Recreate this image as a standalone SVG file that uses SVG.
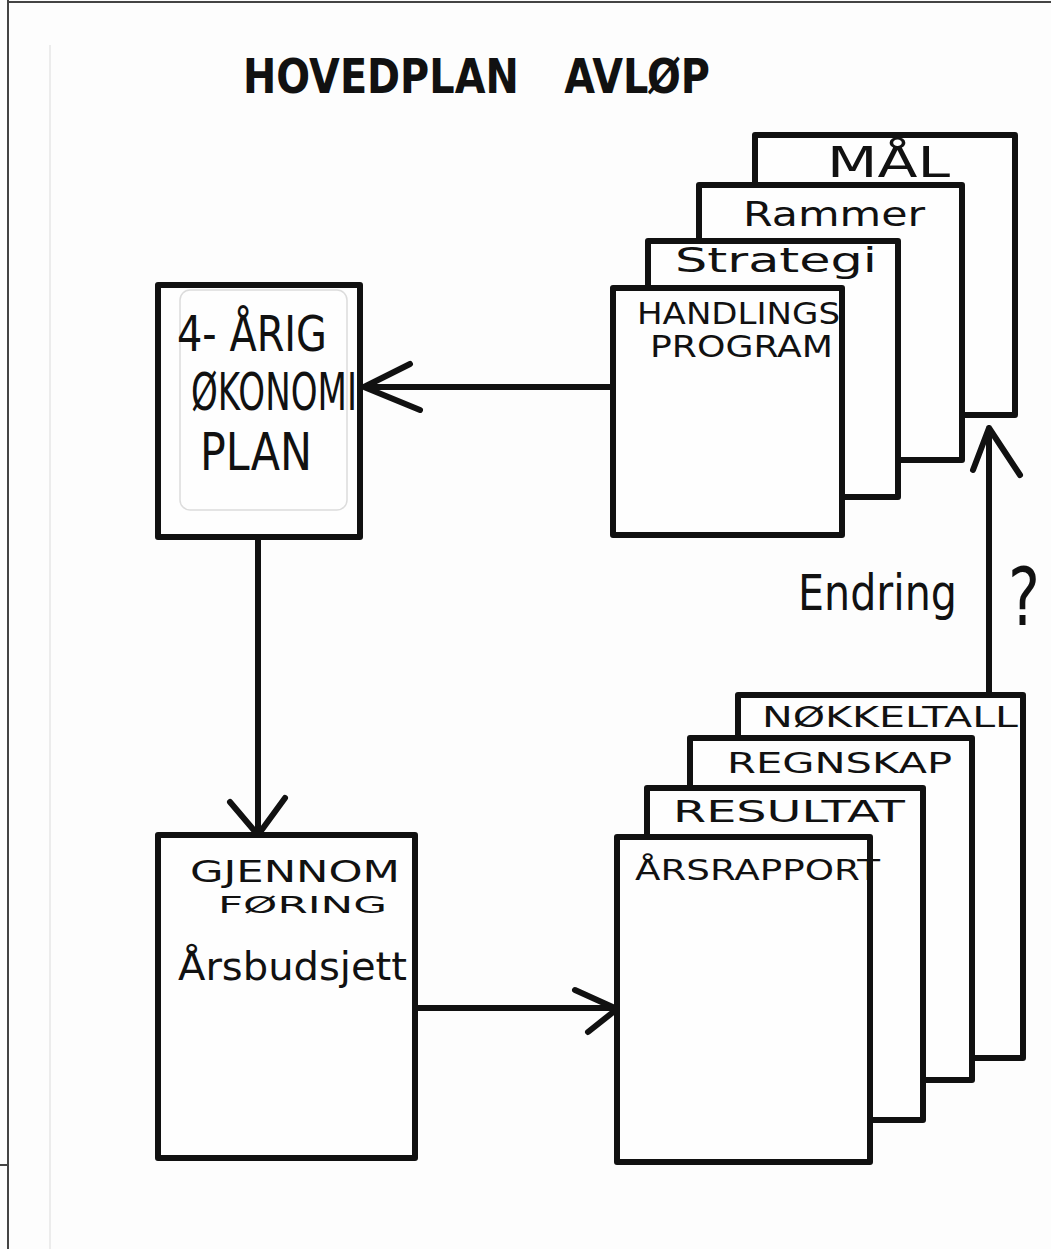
<svg xmlns="http://www.w3.org/2000/svg" width="1051" height="1249" viewBox="0 0 1051 1249">
<style>
.bg{fill:#fdfdfd}
.sheet{fill:#fefefe;stroke:#111;stroke-width:6;stroke-linejoin:round}
.conn{fill:none;stroke:#111;stroke-width:6;stroke-linecap:round;stroke-linejoin:round}
.t{font-family:"DejaVu Sans","Liberation Sans",sans-serif;fill:#111;font-weight:bold}
.h{font-family:"DejaVu Sans","Liberation Sans",sans-serif;fill:#111}
.edge{stroke:#444;stroke-width:2;fill:none}
</style>
<rect class="bg" x="0" y="0" width="1051" height="1249"/>
<g id="page-edges">
<line class="edge" x1="8" y1="0" x2="8" y2="1249"/>
<line class="edge" x1="8" y1="2" x2="1051" y2="2"/>
<line x1="50" y1="45" x2="50" y2="1249" stroke="#e6e6e6" stroke-width="1.5"/>
<line class="edge" x1="0" y1="1165" x2="8" y2="1165"/>
</g>
<g id="title">
<text class="t" x="243" y="93" font-size="48" word-spacing="38" textLength="467" lengthAdjust="spacingAndGlyphs">HOVEDPLAN AVLØP</text>
</g>
<g id="connectors">
<path class="conn" d="M613 387 L364 387 M410 364 L364 387 L420 410"/>
<path class="conn" d="M258 538 L258 833 M230 802 L258 835 L285 798"/>
<path class="conn" d="M415 1008 L615 1008 M575 990 L617 1009 L588 1032"/>
<path class="conn" d="M989 695 L989 428 M973 470 L989 428 L1020 475"/>
</g>
<g id="plan-okonomi">
<rect class="sheet" x="158" y="285" width="202" height="252"/>
<rect x="180" y="290" width="167" height="220" rx="10" fill="none" stroke="#dcdcdc" stroke-width="1.5"/>
<text class="h" x="177" y="351" font-size="50" textLength="150" lengthAdjust="spacingAndGlyphs">4- ÅRIG</text>
<text class="h" x="191" y="410" font-size="52" textLength="166" lengthAdjust="spacingAndGlyphs">ØKONOMI</text>
<text class="h" x="200" y="470" font-size="52" textLength="112" lengthAdjust="spacingAndGlyphs">PLAN</text>
</g>
<g id="stack-mal">
<rect class="sheet" x="755" y="135" width="260" height="280"/>
<text class="h" x="827" y="177" font-size="42" textLength="123" lengthAdjust="spacingAndGlyphs">MÅL</text>
</g>
<g id="stack-rammer">
<rect class="sheet" x="699" y="185" width="263" height="275"/>
<text class="h" x="743" y="226" font-size="33" textLength="182" lengthAdjust="spacingAndGlyphs">Rammer</text>
</g>
<g id="stack-strategi">
<rect class="sheet" x="648" y="241" width="250" height="256"/>
<text class="h" x="675" y="272" font-size="33" textLength="202" lengthAdjust="spacingAndGlyphs">Strategi</text>
</g>
<g id="stack-handlingsprogram">
<rect class="sheet" x="613" y="288" width="229" height="247"/>
<text class="h" x="637" y="324" font-size="31" textLength="203" lengthAdjust="spacingAndGlyphs">HANDLINGS</text>
<text class="h" x="650" y="357" font-size="31" textLength="183" lengthAdjust="spacingAndGlyphs">PROGRAM</text>
</g>
<g id="gjennomforing">
<rect class="sheet" x="158" y="835" width="257" height="323"/>
<text class="h" x="190" y="882" font-size="30" textLength="210" lengthAdjust="spacingAndGlyphs">GJENNOM</text>
<text class="h" x="218" y="913" font-size="23" textLength="169" lengthAdjust="spacingAndGlyphs">FØRING</text>
<text class="h" x="178" y="980" font-size="39" textLength="229" lengthAdjust="spacingAndGlyphs">Årsbudsjett</text>
</g>
<g id="stack-nokkeltall">
<rect class="sheet" x="738" y="695" width="285" height="363"/>
<text class="h" x="762" y="727" font-size="28" textLength="256" lengthAdjust="spacingAndGlyphs">NØKKELTALL</text>
</g>
<g id="stack-regnskap">
<rect class="sheet" x="690" y="738" width="282" height="342"/>
<text class="h" x="727" y="773" font-size="29" textLength="225" lengthAdjust="spacingAndGlyphs">REGNSKAP</text>
</g>
<g id="stack-resultat">
<rect class="sheet" x="647" y="788" width="276" height="332"/>
<text class="h" x="673" y="822" font-size="30" textLength="232" lengthAdjust="spacingAndGlyphs">RESULTAT</text>
</g>
<g id="stack-arsrapport">
<rect class="sheet" x="617" y="837" width="253" height="325"/>
<text class="h" x="635" y="880" font-size="28" textLength="245" lengthAdjust="spacingAndGlyphs">ÅRSRAPPORT</text>
</g>
<g id="label-endring">
<text class="h" x="798" y="610" font-size="50" textLength="159" lengthAdjust="spacingAndGlyphs">Endring</text>
<text class="h" x="1008" y="625" font-size="80" textLength="32" lengthAdjust="spacingAndGlyphs">?</text>
</g>
</svg>
